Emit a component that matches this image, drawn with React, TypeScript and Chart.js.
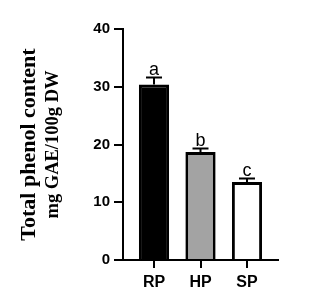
import React, { useEffect, useRef } from "react";
import { Chart, registerables } from "chart.js";

Chart.register(...registerables);

const categories = ["RP", "HP", "SP"];
const means = [30.4, 18.7, 13.5];
const errors = [1.2, 0.6, 0.6];
const letters = ["a", "b", "c"];
const fills = ["#000000", "#a3a3a3", "#ffffff"];
const yTickValues = [0, 10, 20, 30, 40];
const yTitleLines = ["Total phenol content", "mg GAE/100g DW"];

const sans = "'Liberation Sans', Arial, sans-serif";
const serif = "'Liberation Serif', 'Times New Roman', serif";

const extrasPlugin = {
  id: "extras",
  afterDatasetsDraw(chart: any) {
    const ctx = chart.ctx;
    const meta = chart.getDatasetMeta(0);
    const yScale = chart.scales.y;
    ctx.save();
    ctx.strokeStyle = "#000";
    ctx.lineWidth = 2;
    meta.data.forEach((bar: any, i: number) => {
      const x = bar.x;
      const yTop = yScale.getPixelForValue(means[i]);
      const yErr = yScale.getPixelForValue(means[i] + errors[i]);
      ctx.beginPath();
      ctx.moveTo(x, yTop);
      ctx.lineTo(x, yErr);
      ctx.moveTo(x - 8, yErr);
      ctx.lineTo(x + 8, yErr);
      ctx.stroke();
      ctx.fillStyle = "#000";
      ctx.font = `18px ${sans}`;
      ctx.textAlign = "center";
      ctx.textBaseline = "alphabetic";
      ctx.fillText(letters[i], x, yErr - 3);
    });
    const area = chart.chartArea;
    const cy = (area.top + area.bottom) / 2;
    const lines = [
      { text: yTitleLines[0], x: 29, size: 22 },
      { text: yTitleLines[1], x: 53, size: 18.5 },
    ];
    lines.forEach((l) => {
      ctx.save();
      ctx.translate(l.x, cy);
      ctx.rotate(-Math.PI / 2);
      ctx.font = `bold ${l.size}px ${serif}`;
      ctx.fillStyle = "#000";
      ctx.textAlign = "center";
      ctx.textBaseline = "middle";
      ctx.fillText(l.text, 0, 0);
      ctx.restore();
    });
    ctx.restore();
  },
};

export default function App() {
  const ref = useRef<HTMLCanvasElement>(null);
  useEffect(() => {
    document.body.style.margin = "0";
    const chart = new Chart(ref.current!, {
      type: "bar",
      data: {
        datasets: [
          {
            data: means.map((y, i) => ({ x: i, y })),
            backgroundColor: fills,
            borderColor: "#000",
            borderWidth: 3,
            barPercentage: 0.65,
            categoryPercentage: 1,
          },
        ],
      },
      options: {
        responsive: false,
        animation: false,
        layout: { padding: { top: 29, right: 46, left: 0, bottom: 0 } },
        plugins: { legend: { display: false }, tooltip: { enabled: false } },
        scales: {
          x: {
            type: "linear",
            min: -0.667,
            max: 2.667,
            offset: false,
            afterBuildTicks: (scale: any) => {
              scale.ticks = categories.map((_, i) => ({ value: i }));
            },
            afterFit: (scale: any) => {
              scale.height = 43;
            },
            ticks: {
              callback: (v: any) => categories[v] ?? "",
              font: { family: sans, size: 16, weight: "bold" },
              color: "#000",
              padding: 5,
              autoSkip: false,
              maxRotation: 0,
            },
            grid: {
              offset: false,
              drawOnChartArea: false,
              drawTicks: true,
              tickLength: 8,
              lineWidth: 2,
              color: "#000",
            },
            border: { display: true, color: "#000", width: 2 },
          },
          y: {
            min: 0,
            max: 40,
            afterBuildTicks: (scale: any) => {
              scale.ticks = yTickValues.map((v) => ({ value: v }));
            },
            afterFit: (scale: any) => {
              scale.width = 123;
            },
            ticks: {
              font: { family: sans, size: 15, weight: "bold" },
              color: "#000",
              padding: 4,
            },
            grid: {
              drawOnChartArea: false,
              drawTicks: true,
              tickLength: 9,
              lineWidth: 2,
              color: "#000",
            },
            border: { display: true, color: "#000", width: 2 },
          },
        },
      },
      plugins: [extrasPlugin],
    });
    return () => chart.destroy();
  }, []);
  return <canvas ref={ref} width={324} height={303} style={{ display: "block" }} />;
}
